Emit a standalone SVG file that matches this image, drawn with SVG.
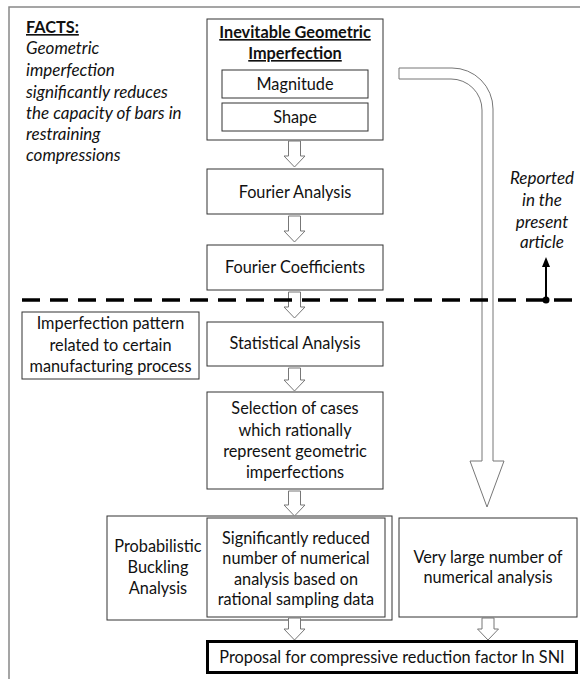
<svg xmlns="http://www.w3.org/2000/svg" width="580" height="679" viewBox="0 0 580 679">
<style>
text{font-family:Lato,"Liberation Sans",sans-serif;font-size:16.3px;fill:#111}
.c{text-anchor:middle}
.b{font-weight:bold;text-decoration:underline}
.i{font-style:italic;font-size:17px}
.box{fill:#fff;stroke:#333;stroke-width:1}
.arr{fill:#fff;stroke:#777;stroke-width:1}
</style>
<rect width="580" height="679" fill="#fff"/>
<path d="M9,679 V7 H580" fill="none" stroke="#888" stroke-width="1.5"/>
<g id="facts">
<text x="26" y="33" class="b" font-size="15.5">FACTS:</text>
<text x="26" y="54" class="i">Geometric</text>
<text x="26" y="76" class="i">imperfection</text>
<text x="26" y="98" class="i">significantly reduces</text>
<text x="26" y="119" class="i">the capacity of bars in</text>
<text x="26" y="140" class="i">restraining</text>
<text x="26" y="161" class="i">compressions</text>
</g>
<g id="imperfection">
<rect x="207" y="19" width="176" height="121" class="box" stroke="#222"/>
<text x="295" y="38" class="c b">Inevitable Geometric</text>
<text x="295" y="59" class="c b">Imperfection</text>
</g>
<g id="magnitude">
<rect x="222" y="70" width="146" height="28" class="box"/>
<text x="295" y="89.5" class="c">Magnitude</text>
</g>
<g id="shape">
<rect x="222" y="103" width="146" height="28" class="box"/>
<text x="295" y="122.5" class="c">Shape</text>
</g>
<g id="fourier-analysis">
<rect x="207" y="169" width="176" height="45" class="box"/>
<text x="295" y="197.5" class="c">Fourier Analysis</text>
</g>
<g id="fourier-coefficients">
<rect x="207" y="245" width="176" height="45" class="box"/>
<text x="295" y="272.5" class="c">Fourier Coefficients</text>
</g>
<g id="statistical-analysis">
<rect x="207" y="322" width="176" height="44" class="box"/>
<text x="295" y="348.5" class="c">Statistical Analysis</text>
</g>
<g id="imperfection-pattern">
<rect x="22" y="312" width="177" height="67" class="box"/>
<text x="110.5" y="329" class="c">Imperfection pattern</text>
<text x="110.5" y="351" class="c">related to certain</text>
<text x="110.5" y="372" class="c">manufacturing process</text>
</g>
<g id="selection">
<rect x="207" y="392" width="176" height="97" class="box"/>
<text x="295" y="414" class="c">Selection of cases</text>
<text x="295" y="436" class="c">which rationally</text>
<text x="295" y="457" class="c">represent geometric</text>
<text x="295" y="478" class="c">imperfections</text>
</g>
<g id="probabilistic">
<rect x="107" y="516" width="285" height="104" class="box"/>
<text x="158" y="552" class="c">Probabilistic</text>
<text x="158" y="573" class="c">Buckling</text>
<text x="158" y="594" class="c">Analysis</text>
</g>
<g id="reduced-analysis">
<rect x="207" y="518" width="178" height="99" class="box"/>
<text x="296" y="544" class="c">Significantly reduced</text>
<text x="296" y="564" class="c">number of numerical</text>
<text x="296" y="585" class="c">analysis based on</text>
<text x="296" y="605" class="c">rational sampling data</text>
</g>
<g id="large-analysis">
<rect x="399" y="518" width="178" height="99" class="box"/>
<text x="488" y="563" class="c">Very large number of</text>
<text x="488" y="583" class="c">numerical analysis</text>
</g>
<g id="proposal">
<rect x="207.5" y="641.5" width="369" height="31" fill="#fff" stroke="#000" stroke-width="3"/>
<text x="392" y="663" class="c">Proposal for compressive reduction factor In SNI</text>
</g>
<g id="reported">
<text x="542" y="184" class="c i">Reported</text>
<text x="542" y="206" class="c i">in the</text>
<text x="542" y="228" class="c i">present</text>
<text x="542" y="248" class="c i">article</text>
</g>
<g id="connectors">
<path class="arr" stroke-width="1.3" d="M399,68 H452 A41,41 0 0 1 493,109 V461 H504 L487,507 L470,461 H482 V110 A31,31 0 0 0 451,79 H399 Z"/>
<path class="arr" d="M288.5,141 H300.5 V156 H305 L294.5,167 L284,156 H288.5 Z"/>
<path class="arr" d="M288.5,216 H300.5 V231 H305 L294.5,242 L284,231 H288.5 Z"/>
<path class="arr" d="M288.5,292 H300.5 V307 H305 L294.5,318 L284,307 H288.5 Z"/>
<path class="arr" d="M288.5,368 H300.5 V380 H305 L294.5,391 L284,380 H288.5 Z"/>
<path class="arr" d="M288.5,491 H300.5 V505 H305 L294.5,516 L284,505 H288.5 Z"/>
<path class="arr" d="M288.5,618 H300.5 V629 H305 L294.5,640 L284,629 H288.5 Z"/>
<path class="arr" d="M482,618 H494 V629 H498.5 L488,640 L477.5,629 H482 Z"/>
<line x1="22" y1="300" x2="576" y2="300" stroke="#000" stroke-width="3.5" stroke-dasharray="18 10"/>
<line x1="546" y1="300" x2="546" y2="265" stroke="#000" stroke-width="2"/>
<path d="M546,257 L550,267 L542,267 Z" fill="#000"/>
<circle cx="546" cy="300" r="3.5" fill="#000"/>
</g>
</svg>
